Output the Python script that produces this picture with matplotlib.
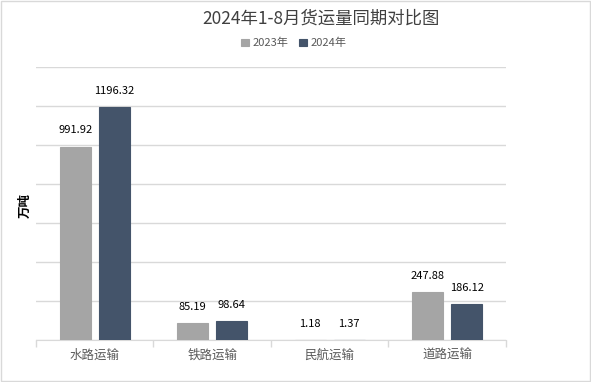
import numpy as np
import matplotlib.pyplot as plt
from matplotlib.patches import Rectangle

plt.rcParams['font.family'] = ['Noto Sans CJK SC', 'DejaVu Sans']

# data
categories = ["水路运输", "铁路运输", "民航运输", "道路运输"]
series_names = ["2023年", "2024年"]
values_2023 = [991.92, 85.19, 1.18, 247.88]
values_2024 = [1196.32, 98.64, 1.37, 186.12]
colors = ["#A5A5A5", "#44546A"]

fig = plt.figure(figsize=(5.91, 3.82), dpi=100)
ax = fig.add_axes([0.0609, 0.110, 0.795, 0.7147])

x = np.arange(len(categories))
width = 0.264
offset = 0.166

for vals, name, color, sign in zip([values_2023, values_2024], series_names, colors, [-1, 1]):
    # thin edge keeps the tiny 民航 bars visible, as in the original
    bars = ax.bar(x + sign * offset, vals, width, color=color, edgecolor=color,
                  linewidth=0.8, label=name, zorder=3)
    for b, v in zip(bars, vals):
        ax.annotate(f"{v:.2f}", (b.get_x() + b.get_width() / 2, v),
                    xytext=(0, 8), textcoords="offset points",
                    ha="center", va="bottom", fontsize=8, color="#000000")

ax.set_xlim(-0.5, len(categories) - 0.5)
ax.set_ylim(0, 1400)
ax.set_yticks(np.arange(0, 1401, 200))
ax.tick_params(axis="y", length=0, labelleft=False)
ax.yaxis.grid(True, color="#D9D9D9", linewidth=1, zorder=0)

ax.set_xticks(x)
ax.set_xticklabels(categories, fontsize=9, color="#595959")
ax.tick_params(axis="x", which="major", length=0, pad=6)
ax.set_xticks(np.arange(-0.5, len(categories)), minor=True)
ax.tick_params(axis="x", which="minor", length=5, color="#D9D9D9", width=1)

for side in ["top", "right", "left"]:
    ax.spines[side].set_visible(False)
ax.spines["bottom"].set_color("#D9D9D9")
ax.spines["bottom"].set_zorder(2)

fig.text(0.042, 0.463, "万吨", rotation=90, fontsize=9, fontweight="bold",
         ha="center", va="center", color="#000000")

fig.text(0.543, 0.952, "2024年1-8月货运量同期对比图", fontsize=12.5,
         ha="center", va="center", color="#404040")

fig.legend(loc="center", bbox_to_anchor=(0.497, 0.887), ncol=2, frameon=False,
           fontsize=8, handlelength=0.7, handleheight=0.7, handletextpad=0.3,
           columnspacing=1.0, labelcolor="#595959")

fig.add_artist(Rectangle((0.001, 0.002), 0.997, 0.996, transform=fig.transFigure,
                         fill=False, edgecolor="#D9D9D9", linewidth=1))

fig.savefig("out.png", dpi=100)
